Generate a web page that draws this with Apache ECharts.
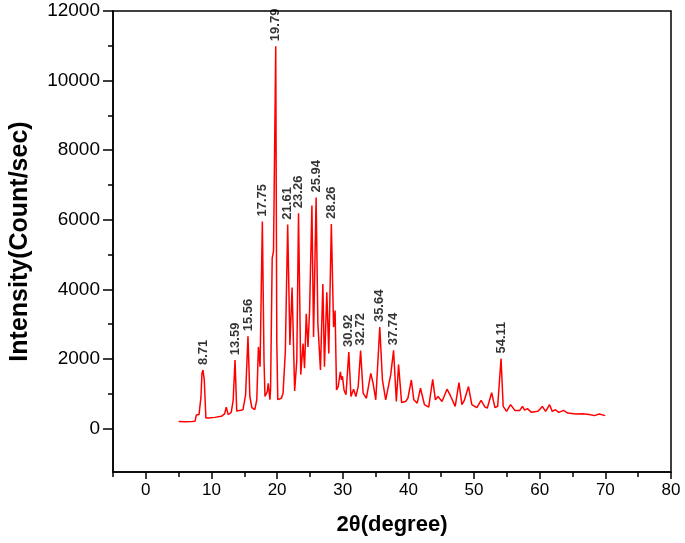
<!DOCTYPE html>
<html><head><meta charset="utf-8">
<script src="https://cdn.jsdelivr.net/npm/echarts@6/dist/echarts.min.js"></script>
<style>html,body{margin:0;padding:0;background:#fff}#c{width:685px;height:543px}</style>
</head><body><div id="c"></div>
<script>
const twoTheta = [5.0,6.0,7.0,7.5,7.7,8.1,8.4,8.55,8.71,8.9,9.15,9.6,10.5,11.5,12.0,12.25,12.55,13.0,13.3,13.59,13.85,14.1,14.8,15.2,15.56,15.85,16.15,16.6,16.9,17.15,17.4,17.75,18.0,18.15,18.5,18.65,18.9,19.0,19.25,19.45,19.79,19.95,20.1,20.3,20.65,20.9,21.25,21.61,21.95,22.28,22.67,23.0,23.26,23.6,23.95,24.18,24.44,24.7,24.95,25.3,25.55,25.94,26.21,26.6,26.97,27.21,27.57,27.87,28.26,28.6,28.83,29.05,29.3,29.63,29.8,29.95,30.2,30.49,30.92,31.25,31.65,32.0,32.35,32.72,33.1,33.6,34.27,34.62,35.03,35.64,36.04,36.54,37.04,37.3,37.74,38.16,38.5,38.96,39.57,39.92,40.45,40.82,41.34,41.84,42.44,43.09,43.7,44.11,44.52,45.12,45.88,46.38,47.13,47.7,48.15,48.5,49.15,49.66,50.42,51.07,51.4,51.67,52.02,52.68,53.18,53.6,54.11,54.44,54.95,55.56,56.21,56.97,57.37,57.7,58.13,58.74,59.74,60.4,60.9,61.5,61.91,62.41,62.9,63.62,64.27,65.54,66.55,67.56,68.31,69.07,69.98];
const intensity = [200,195,200,210,390,400,900,1580,1680,1400,300,300,320,350,420,615,400,460,800,1965,500,445,540,970,2650,920,600,540,820,2345,1775,5950,2000,920,1060,1300,830,1110,4900,5100,10990,2500,830,870,870,1015,2200,5860,2400,4055,1080,1965,6190,1550,2440,1730,3295,2345,3400,6410,2630,6640,3010,1680,4150,1775,3913,2155,5880,2915,3390,1110,1200,1630,1400,1500,1100,970,2200,920,1130,920,1205,2240,1015,870,1585,1300,825,2915,1395,825,1300,1540,2250,778,1840,750,778,870,1395,825,730,1157,685,615,1414,825,920,778,1130,950,635,1320,685,800,1205,685,600,807,700,615,590,1030,600,640,2010,635,493,685,520,520,635,530,570,465,493,635,493,685,493,540,465,520,445,416,427,400,370,416,370];
const peakPositions = [8.71,13.59,15.56,17.75,19.79,21.61,23.26,25.94,28.26,30.92,32.72,35.64,37.74,54.11];
const peakIntensity = [1680,1965,2650,5950,10990,5860,6190,6640,5880,2200,2240,2915,2250,2010];
const peakLabels = ['8.71','13.59','15.56','17.75','19.79','21.61','23.26','25.94','28.26','30.92','32.72','35.64','37.74','54.11'];
const xLabelValues = [0,10,20,30,40,50,60,70,80];
const xMinorValues = [-5,5,15,25,35,45,55,65,75];
const yLabelValues = [0,2000,4000,6000,8000,10000,12000];
const yMinorValues = [1000,3000,5000,7000,9000,11000];

const FONT = 'Liberation Sans, Arial, sans-serif';
const X_MIN = -5, X_MAX = 80, Y_MIN = -1250, Y_MAX = 12000;

const lineData = twoTheta.map((x, i) => [x, intensity[i]]);
const peakData = peakPositions.map((x, i) => ({value: [x, peakIntensity[i]], name: peakLabels[i]}));

const minorAxis = (values) => ({
  type: 'value', offset: 0,
  axisLine: {show: true, onZero: false, lineStyle: {color: 'rgba(0,0,0,0)', width: 1}},
  axisTick: {show: true, inside: false, length: 5, customValues: values, lineStyle: {color: '#000', width: 1.5}},
  axisLabel: {show: true, customValues: values, formatter: () => '', fontSize: 1},
  splitLine: {show: false}
});

const chart = echarts.init(document.getElementById('c'), null, {renderer: 'canvas'});
chart.setOption({
  backgroundColor: '#fff',
  animation: false,
  grid: {left: 110, right: 14, top: 11, bottom: 71, show: true, borderColor: '#000', borderWidth: 1.5, backgroundColor: 'transparent'},
  xAxis: [{
    type: 'value', min: X_MIN, max: X_MAX,
    name: '2\u03b8(degree)', nameLocation: 'middle', nameGap: 42,
    nameTextStyle: {fontFamily: FONT, fontSize: 22, fontWeight: 'bold', color: '#000'},
    axisLine: {show: true, onZero: false, lineStyle: {color: '#000', width: 1.5}},
    axisTick: {show: true, inside: false, length: 7, customValues: xLabelValues, lineStyle: {color: '#000', width: 1.5}},
    axisLabel: {show: true, margin: 10, customValues: xLabelValues, formatter: v => String(v), fontFamily: FONT, fontSize: 17, color: '#000'},
    splitLine: {show: false}
  }, Object.assign(minorAxis(xMinorValues), {min: X_MIN, max: X_MAX, position: 'bottom'})],
  yAxis: [{
    type: 'value', min: Y_MIN, max: Y_MAX,
    name: 'Intensity(Count/sec)', nameLocation: 'middle', nameGap: 80,
    nameTextStyle: {fontFamily: FONT, fontSize: 25, fontWeight: 'bold', color: '#000'},
    axisLine: {show: true, onZero: false, lineStyle: {color: '#000', width: 1.5}},
    axisTick: {show: true, inside: false, length: 10, customValues: yLabelValues, lineStyle: {color: '#000', width: 1.5}},
    axisLabel: {show: true, margin: 13, customValues: yLabelValues, formatter: v => String(v), fontFamily: FONT, fontSize: 19, color: '#000'},
    splitLine: {show: false}
  }, Object.assign(minorAxis(yMinorValues), {min: Y_MIN, max: Y_MAX, position: 'left'})],
  series: [{
    type: 'line', xAxisIndex: 0, yAxisIndex: 0, data: lineData,
    showSymbol: false, symbol: 'none',
    lineStyle: {color: '#ff0000', width: 1.5}, z: 3
  }, {
    type: 'scatter', xAxisIndex: 0, yAxisIndex: 0, data: peakData,
    symbolSize: 0, silent: true, z: 4,
    label: {show: true, position: 'top', distance: 5, rotate: 90, align: 'left', verticalAlign: 'middle',
      formatter: p => p.name, fontFamily: FONT, fontSize: 13, fontWeight: 'bold', color: '#000'}
  }]
});
</script></body></html>
